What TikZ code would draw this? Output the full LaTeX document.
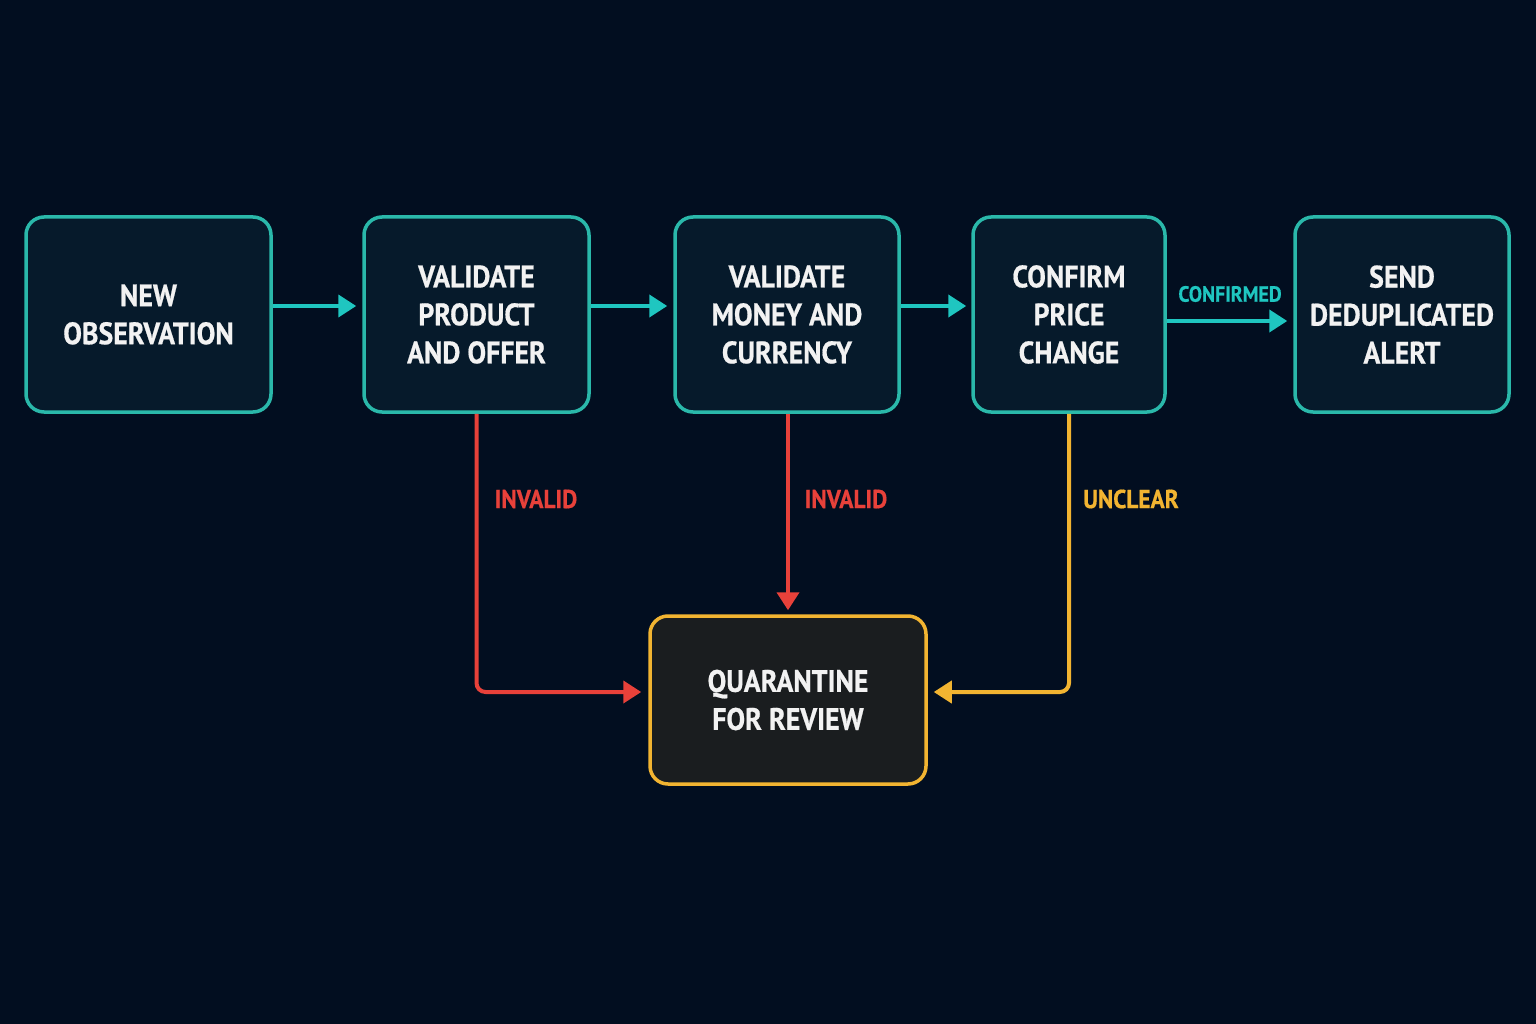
\documentclass[tikz,border=0pt]{standalone}
\usepackage{fontspec}
\setmainfont[FakeStretch=0.9,FakeBold=0.6]{PT Sans}
\usetikzlibrary{arrows.meta}
\definecolor{bg}{HTML}{020E20}
\definecolor{boxfill}{HTML}{061A2B}
\definecolor{teal}{HTML}{2AB8AA}
\definecolor{tealarrow}{HTML}{1FC6C0}
\definecolor{redc}{HTML}{E8413A}
\definecolor{yel}{HTML}{F2B431}
\definecolor{qfill}{HTML}{1A1D1F}
\definecolor{txt}{HTML}{F2F2F2}
\tikzset{
  stepbox/.style={draw=teal, line width=3.5pt, fill=boxfill, rounded corners=18pt,
    text=txt, align=center, font=\fontsize{31}{38}\selectfont\bfseries, inner sep=0pt},
  qbox/.style={draw=yel, line width=3.5pt, fill=qfill, rounded corners=18pt,
    text=txt, align=center, font=\fontsize{31}{38}\selectfont\bfseries, inner sep=0pt,
    minimum width=276pt, minimum height=168pt},
  tarrow/.style={draw=tealarrow, line width=4pt, -{Triangle[length=18pt,width=22pt]}},
  rarrow/.style={draw=redc, line width=4pt, rounded corners=9pt, -{Triangle[length=18pt,width=22pt]}},
  yarrow/.style={draw=yel, line width=4pt, rounded corners=9pt, -{Triangle[length=18pt,width=22pt]}},
  lbl/.style={font=\fontsize{26}{30}\selectfont\bfseries, inner sep=0pt}
}
\begin{document}
\begin{tikzpicture}[x=1pt,y=-1pt]
\fill[bg] (0,0) rectangle (1536,1024);
\useasboundingbox (0,0) rectangle (1536,1024);
\node[stepbox, minimum width=245pt, minimum height=195pt] (b1) at (148.5,314.5) {NEW\\OBSERVATION};
\node[stepbox, minimum width=225pt, minimum height=195pt] (b2) at (476.5,314.5) {VALIDATE\\PRODUCT\\AND OFFER};
\node[stepbox, minimum width=224pt, minimum height=195pt] (b3) at (787,314.5) {VALIDATE\\MONEY AND\\CURRENCY};
\node[stepbox, minimum width=192pt, minimum height=195pt] (b4) at (1069,314.5) {CONFIRM\\PRICE\\CHANGE};
\node[stepbox, minimum width=214pt, minimum height=195pt] (b5) at (1402,314.5) {SEND\\DEDUPLICATED\\ALERT};
\node[qbox] (q) at (788,700) {QUARANTINE\\FOR REVIEW};

\draw[tarrow, shorten >=6pt] ([yshift=8.5pt]b1.east) -- ([yshift=8.5pt]b1.east -| b2.west);
\draw[tarrow, shorten >=6pt] ([yshift=8.5pt]b2.east) -- ([yshift=8.5pt]b2.east -| b3.west);
\draw[tarrow, shorten >=5pt] ([yshift=8.5pt]b3.east) -- ([yshift=8.5pt]b3.east -| b4.west);
\draw[tarrow, shorten >=6pt] ([yshift=-6.5pt]b4.east) -- ([yshift=-6.5pt]b4.east -| b5.west)
  node[pos=0.5, above=17pt, text=tealarrow, font=\fontsize{22}{26}\selectfont\bfseries, inner sep=0pt] (lc) {CONFIRMED};

\draw[rarrow, shorten >=7pt] (b2.south) |- ([yshift=8pt]q.west);
\draw[rarrow, shorten >=4pt] (b3.south -| q.north) -- (q.north);
\draw[yarrow, shorten >=6pt] (b4.south) |- ([yshift=8pt]q.east);

\node[lbl, text=redc] (l1) at (536,499) {INVALID};
\node[lbl, text=redc] (l2) at (846,499) {INVALID};
\node[lbl, text=yel] (l3) at (1131,499) {UNCLEAR};
\end{tikzpicture}
\end{document}
